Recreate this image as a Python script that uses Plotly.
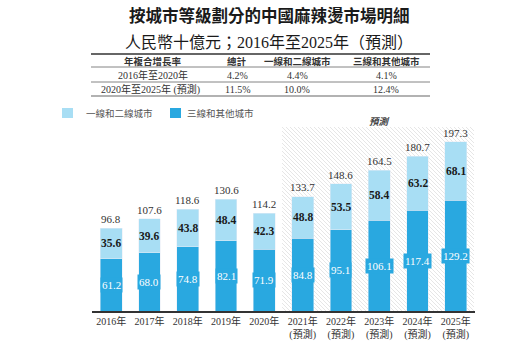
import plotly.graph_objects as go

years = ["2016年", "2017年", "2018年", "2019年", "2020年",
         "2021年<br>(預測)", "2022年<br>(預測)", "2023年<br>(預測)",
         "2024年<br>(預測)", "2025年<br>(預測)"]
tier3 = [61.2, 68.0, 74.8, 82.1, 71.9, 84.8, 95.1, 106.1, 117.4, 129.2]
tier12 = [35.6, 39.6, 43.8, 48.4, 42.3, 48.8, 53.5, 58.4, 63.2, 68.1]
totals = [96.8, 107.6, 118.6, 130.6, 114.2, 133.7, 148.6, 164.5, 180.7, 197.3]

table_header = ["年複合增長率", "總計", "一線和二線城市", "三線和其他城市"]
table_rows = [["2016年至2020年", "4.2%", "4.4%", "4.1%"],
              ["2020年至2025年 (預測)", "11.5%", "10.0%", "12.4%"]]

DARK = "#29a8e0"
LIGHT = "#a8def4"
SERIF = "Liberation Serif, Noto Sans CJK TC, serif"
SANS = "Noto Sans CJK TC, sans-serif"

L, R, T, B = 92, 48, 100, 42
W, H = 523, 353
PW, PH = W - L - R, H - T - B


def X(px):
    return (px - L) / PW


def Y(py):
    return (H - B - py) / PH


xs = list(range(len(years)))
fig = go.Figure()

fig.add_trace(go.Bar(x=xs, y=tier3, marker_color=DARK, width=0.57,
                     name="三線和其他城市", showlegend=False))
fig.add_trace(go.Bar(x=xs, y=tier12, marker_color=LIGHT, width=0.57,
                     name="一線和二線城市", showlegend=False))

ann = []
for i in xs:
    ann.append(dict(x=i, y=tier3[i] / 2, xref="x", yref="y", text=f"{tier3[i]:.1f}",
                    showarrow=False, font=dict(family=SERIF, size=11, color="white"),
                    bgcolor=DARK, borderpad=1))
    ann.append(dict(x=i, y=tier3[i] + tier12[i] / 2, xref="x", yref="y",
                    text=f"<b>{tier12[i]:.1f}</b>", showarrow=False,
                    font=dict(family=SERIF, size=11.5, color="#1a1a1a")))
    ann.append(dict(x=i, y=totals[i], xref="x", yref="y", text=f"{totals[i]:.1f}",
                    showarrow=False, yanchor="bottom", yshift=1,
                    font=dict(family=SERIF, size=11, color="#333333")))


def pann(px, py, text, font, xanchor="center"):
    ann.append(dict(x=X(px), y=Y(py), xref="paper", yref="paper", text=text,
                    xanchor=xanchor, yanchor="middle", showarrow=False, font=font))


# forecast label
ann.append(dict(x=7, y=Y(121), xref="x", yref="paper", text="<b><i>預測</i></b>",
                xanchor="center", yanchor="middle",
                showarrow=False, font=dict(family=SANS, size=9.5, color="#444444")))

# title
pann(269, 15, "<b>按城市等級劃分的中國麻辣燙市場明細</b>",
     dict(family=SANS, size=16.5, color="#1a1a1a"))
pann(269, 42, "人民幣十億元；2016年至2025年（預測）",
     dict(family=SERIF, size=16, color="#1a1a1a"))

# table
col_x = [153, 237, 297, 386]
for j, h in enumerate(table_header):
    pann(col_x[j], 61, f"<b>{h}</b>", dict(family=SANS, size=9.5, color="#333333"))
row_y = [75, 89]
for r, row in enumerate(table_rows):
    for j, v in enumerate(row):
        pann(col_x[j] - (3 if (j == 0 and r == 1) else 0), row_y[r], v,
             dict(family=SERIF, size=10, color="#333333"))

shapes = []
for py, wdt in [(54, 2), (67, 0.8), (82, 0.8), (96, 1.2)]:
    shapes.append(dict(type="line", xref="paper", yref="paper",
                       x0=X(91), x1=X(430), y0=Y(py), y1=Y(py),
                       line=dict(color="#666666", width=wdt)))

# forecast hatch (diagonal "\" lines clipped to the box, in pixel space)
hx0, hx1, hy0, hy1 = 282, 474, 127, 311
step = 4
c = hx0 - (hy1 - hy0)
while c < hx1:
    ya, yb = hy0, hy1
    xa, xb = c, c + (hy1 - hy0)
    if xa < hx0:
        ya = ya + (hx0 - xa)
        xa = hx0
    if xb > hx1:
        yb = yb - (xb - hx1)
        xb = hx1
    if ya < yb:
        shapes.append(dict(type="line", xref="paper", yref="paper", layer="below",
                           x0=X(xa), x1=X(xb), y0=Y(ya), y1=Y(yb),
                           line=dict(color="#e6e6e6", width=1)))
    c += step

# legend
for sx, tx, col, label in [(62, 84, LIGHT, "一線和二線城市"), (170, 185, DARK, "三線和其他城市")]:
    shapes.append(dict(type="rect", xref="paper", yref="paper",
                       x0=X(sx), x1=X(sx + 11), y0=Y(118), y1=Y(108),
                       fillcolor=col, line=dict(width=0)))
    pann(tx, 113, label, dict(family=SANS, size=9.5, color="#555555"), xanchor="left")

fig.update_layout(
    width=W, height=H, margin=dict(l=L, r=R, t=T, b=B, autoexpand=False),
    paper_bgcolor="white", plot_bgcolor="rgba(0,0,0,0)",
    barmode="stack", annotations=ann, shapes=shapes, showlegend=False,
    xaxis=dict(range=[-0.5, 9.5], tickvals=xs, ticktext=years, showgrid=False,
               zeroline=False, showline=True, linecolor="#333333", linewidth=1.5,
               ticks="", tickangle=0, automargin=False,
               tickfont=dict(family=SERIF, size=10, color="#333333")),
    yaxis=dict(range=[0, PH / 0.857], visible=False, showgrid=False, zeroline=False,
               automargin=False),
)

fig.write_html("out.html")
